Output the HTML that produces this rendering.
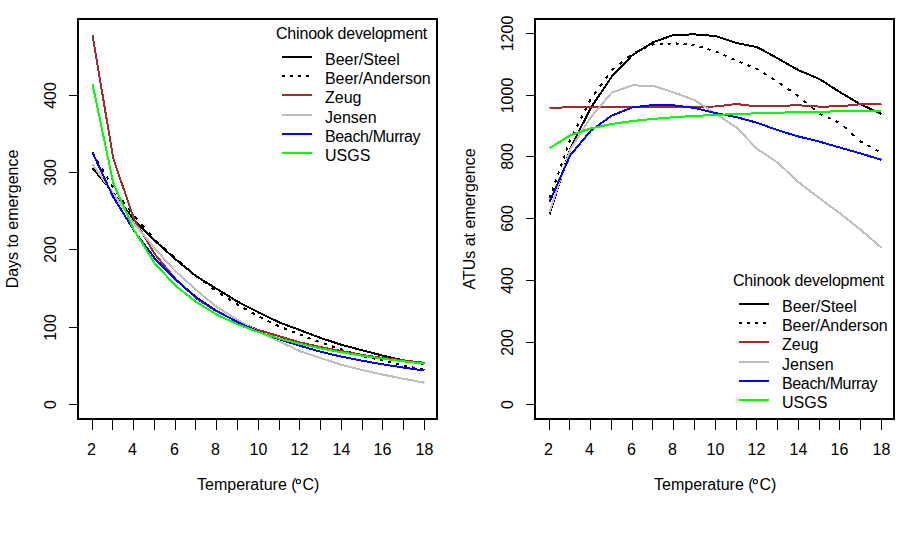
<!DOCTYPE html>
<html><head><meta charset="utf-8"><style>
html,body{margin:0;padding:0;background:#fff;}
svg{display:block;}
text{font-family:"Liberation Sans", sans-serif;font-size:16px;fill:#000;}
</style></head><body>
<svg width="914" height="554" viewBox="0 0 914 554">
<rect width="914" height="554" fill="#fff"/>
<rect x="78" y="19" width="359" height="400" fill="none" stroke="#000" stroke-width="2"/>
<line x1="69" y1="404.5" x2="78" y2="404.5" stroke="#000" stroke-width="1"/>
<text transform="translate(56,404.5) rotate(-90)" text-anchor="middle">0</text>
<line x1="69" y1="327.5" x2="78" y2="327.5" stroke="#000" stroke-width="1"/>
<text transform="translate(56,327.5) rotate(-90)" text-anchor="middle">100</text>
<line x1="69" y1="249.5" x2="78" y2="249.5" stroke="#000" stroke-width="1"/>
<text transform="translate(56,249.5) rotate(-90)" text-anchor="middle">200</text>
<line x1="69" y1="172.5" x2="78" y2="172.5" stroke="#000" stroke-width="1"/>
<text transform="translate(56,172.5) rotate(-90)" text-anchor="middle">300</text>
<line x1="69" y1="95.5" x2="78" y2="95.5" stroke="#000" stroke-width="1"/>
<text transform="translate(56,95.5) rotate(-90)" text-anchor="middle">400</text>
<line x1="92.5" y1="419" x2="92.5" y2="430" stroke="#000" stroke-width="1"/>
<text x="91.5" y="455" text-anchor="middle">2</text>
<line x1="112.5" y1="419" x2="112.5" y2="430" stroke="#000" stroke-width="1"/>
<line x1="133.5" y1="419" x2="133.5" y2="430" stroke="#000" stroke-width="1"/>
<text x="132.5" y="455" text-anchor="middle">4</text>
<line x1="154.5" y1="419" x2="154.5" y2="430" stroke="#000" stroke-width="1"/>
<line x1="175.5" y1="419" x2="175.5" y2="430" stroke="#000" stroke-width="1"/>
<text x="174.5" y="455" text-anchor="middle">6</text>
<line x1="195.5" y1="419" x2="195.5" y2="430" stroke="#000" stroke-width="1"/>
<line x1="216.5" y1="419" x2="216.5" y2="430" stroke="#000" stroke-width="1"/>
<text x="215.5" y="455" text-anchor="middle">8</text>
<line x1="237.5" y1="419" x2="237.5" y2="430" stroke="#000" stroke-width="1"/>
<line x1="258.5" y1="419" x2="258.5" y2="430" stroke="#000" stroke-width="1"/>
<text x="258.5" y="455" text-anchor="middle">10</text>
<line x1="279.5" y1="419" x2="279.5" y2="430" stroke="#000" stroke-width="1"/>
<line x1="299.5" y1="419" x2="299.5" y2="430" stroke="#000" stroke-width="1"/>
<text x="299.5" y="455" text-anchor="middle">12</text>
<line x1="320.5" y1="419" x2="320.5" y2="430" stroke="#000" stroke-width="1"/>
<line x1="341.5" y1="419" x2="341.5" y2="430" stroke="#000" stroke-width="1"/>
<text x="341.5" y="455" text-anchor="middle">14</text>
<line x1="362.5" y1="419" x2="362.5" y2="430" stroke="#000" stroke-width="1"/>
<line x1="382.5" y1="419" x2="382.5" y2="430" stroke="#000" stroke-width="1"/>
<text x="382.5" y="455" text-anchor="middle">16</text>
<line x1="403.5" y1="419" x2="403.5" y2="430" stroke="#000" stroke-width="1"/>
<line x1="424.5" y1="419" x2="424.5" y2="430" stroke="#000" stroke-width="1"/>
<text x="424.5" y="455" text-anchor="middle">18</text>
<text x="197" y="490">Temperature (</text>
<circle cx="298.4" cy="481.6" r="2.1" fill="none" stroke="#000" stroke-width="1.1"/>
<text x="302.4" y="490">C)</text>
<text transform="translate(18,219) rotate(-90)" text-anchor="middle">Days to emergence</text>
<polyline points="92.50,168.00 113.25,193.00 134.00,219.80 154.75,240.60 175.50,259.30 196.25,276.30 217.00,289.00 237.75,301.70 258.50,312.40 279.25,322.40 300.00,330.10 320.75,338.00 341.50,344.80 362.25,350.30 383.00,355.70 403.75,360.40 424.50,364.20" fill="none" stroke="#000000" stroke-width="2" stroke-linejoin="round" shape-rendering="crispEdges"/>
<path d="M92.50,152.50L94.25,155.50M97.18,160.50L98.93,163.50M101.85,168.50L103.61,171.50M106.53,176.50L108.28,179.50M111.20,184.50L112.96,187.50M116.58,192.50L118.81,195.50M122.51,200.50L124.74,203.50M128.44,208.50L130.67,211.50M134.44,216.50L137.09,219.50M141.51,224.50L144.15,227.50M148.57,232.50L151.22,235.50M155.75,240.41L158.75,243.14M163.75,247.70L166.75,250.43M171.75,254.98L174.75,257.72M179.75,262.00L182.75,264.55M187.75,268.79L190.75,271.33M195.75,275.58L196.25,276.00M196.25,276.00L198.75,277.89M203.75,281.67L206.75,283.94M211.75,287.73L214.75,290.00M219.75,293.42L222.75,295.30M227.75,298.43L230.75,300.31M235.75,303.45L237.75,304.70M237.75,304.70L238.75,305.26M243.75,308.05L246.75,309.73M251.75,312.53L254.75,314.20M259.75,316.91L262.75,318.37M267.75,320.80L270.75,322.26M275.75,324.70L278.75,326.16M283.75,328.18L286.75,329.36M291.75,331.34L294.75,332.53M299.75,334.50L300.00,334.60M300.00,334.60L302.75,335.65M307.75,337.55L310.75,338.69M315.75,340.60L318.75,341.74M323.75,343.51L326.75,344.52M331.75,346.21L334.75,347.22M339.75,348.91L341.50,349.50M341.50,349.50L342.75,349.90M347.75,351.49L350.75,352.44M355.75,354.03L358.75,354.99M363.75,356.42L366.75,357.05M371.75,358.11L374.75,358.75M379.75,359.81L382.75,360.45M387.75,361.74L390.75,362.52M395.75,363.82L398.75,364.60M403.75,365.90L406.75,366.43M411.75,367.33L414.75,367.86M419.75,368.75L422.75,369.29" fill="none" stroke="#000000" stroke-width="2" shape-rendering="crispEdges"/>
<polyline points="92.50,35.00 113.25,158.50 134.00,219.00 154.75,254.00 175.50,279.00 196.25,298.30 217.00,311.60 237.75,321.80 258.50,330.00 279.25,336.20 300.00,342.50 320.75,347.10 341.50,351.10 362.25,354.90 383.00,357.90 403.75,360.40 424.50,362.80" fill="none" stroke="#a52a2a" stroke-width="2" stroke-linejoin="round" shape-rendering="crispEdges"/>
<polyline points="92.50,164.40 113.25,193.50 134.00,223.40 154.75,248.40 175.50,271.20 196.25,290.00 217.00,307.10 237.75,320.00 258.50,331.90 279.25,341.50 300.00,351.30 320.75,358.00 341.50,364.80 362.25,370.10 383.00,374.60 403.75,378.80 424.50,382.70" fill="none" stroke="#bebebe" stroke-width="2" stroke-linejoin="round" shape-rendering="crispEdges"/>
<polyline points="92.50,152.70 113.25,197.00 134.00,230.50 154.75,258.50 175.50,279.50 196.25,297.30 217.00,311.10 237.75,322.20 258.50,331.70 279.25,339.20 300.00,345.80 320.75,351.80 341.50,356.70 362.25,360.70 383.00,364.40 403.75,367.60 424.50,370.50" fill="none" stroke="#0000ff" stroke-width="2" stroke-linejoin="round" shape-rendering="crispEdges"/>
<polyline points="92.50,83.90 113.25,183.00 134.00,230.00 154.75,263.50 175.50,285.70 196.25,302.00 217.00,314.80 237.75,324.40 258.50,332.10 279.25,338.50 300.00,343.90 320.75,348.40 341.50,352.30 362.25,355.70 383.00,358.70 403.75,361.40 424.50,363.70" fill="none" stroke="#00ff00" stroke-width="2" stroke-linejoin="round" shape-rendering="crispEdges"/>
<text x="276" y="39" textLength="151.3" lengthAdjust="spacing">Chinook development</text>
<line x1="282" y1="57.0" x2="312" y2="57.0" stroke="#000000" stroke-width="2" shape-rendering="crispEdges"/>
<text x="325" y="65.0">Beer/Steel</text>
<line x1="282" y1="76.0" x2="312" y2="76.0" stroke="#000000" stroke-width="2" stroke-dasharray="3 5" shape-rendering="crispEdges"/>
<text x="325" y="84.0" textLength="105.6" lengthAdjust="spacing">Beer/Anderson</text>
<line x1="282" y1="95.0" x2="312" y2="95.0" stroke="#a52a2a" stroke-width="2" shape-rendering="crispEdges"/>
<text x="325" y="103.0">Zeug</text>
<line x1="282" y1="115.0" x2="312" y2="115.0" stroke="#bebebe" stroke-width="2" shape-rendering="crispEdges"/>
<text x="325" y="123.0">Jensen</text>
<line x1="282" y1="134.0" x2="312" y2="134.0" stroke="#0000ff" stroke-width="2" shape-rendering="crispEdges"/>
<text x="325" y="142.0" textLength="95.6" lengthAdjust="spacing">Beach/Murray</text>
<line x1="282" y1="153.0" x2="312" y2="153.0" stroke="#00ff00" stroke-width="2" shape-rendering="crispEdges"/>
<text x="325" y="161.0">USGS</text>
<rect x="535" y="19" width="359" height="400" fill="none" stroke="#000" stroke-width="2"/>
<line x1="526" y1="404.5" x2="535" y2="404.5" stroke="#000" stroke-width="1"/>
<text transform="translate(513,404.5) rotate(-90)" text-anchor="middle">0</text>
<line x1="526" y1="342.5" x2="535" y2="342.5" stroke="#000" stroke-width="1"/>
<text transform="translate(513,342.5) rotate(-90)" text-anchor="middle">200</text>
<line x1="526" y1="280.5" x2="535" y2="280.5" stroke="#000" stroke-width="1"/>
<text transform="translate(513,280.5) rotate(-90)" text-anchor="middle">400</text>
<line x1="526" y1="218.5" x2="535" y2="218.5" stroke="#000" stroke-width="1"/>
<text transform="translate(513,218.5) rotate(-90)" text-anchor="middle">600</text>
<line x1="526" y1="156.5" x2="535" y2="156.5" stroke="#000" stroke-width="1"/>
<text transform="translate(513,156.5) rotate(-90)" text-anchor="middle">800</text>
<line x1="526" y1="95.5" x2="535" y2="95.5" stroke="#000" stroke-width="1"/>
<text transform="translate(513,95.5) rotate(-90)" text-anchor="middle">1000</text>
<line x1="526" y1="33.5" x2="535" y2="33.5" stroke="#000" stroke-width="1"/>
<text transform="translate(513,33.5) rotate(-90)" text-anchor="middle">1200</text>
<line x1="549.5" y1="419" x2="549.5" y2="430" stroke="#000" stroke-width="1"/>
<text x="548.5" y="455" text-anchor="middle">2</text>
<line x1="569.5" y1="419" x2="569.5" y2="430" stroke="#000" stroke-width="1"/>
<line x1="590.5" y1="419" x2="590.5" y2="430" stroke="#000" stroke-width="1"/>
<text x="589.5" y="455" text-anchor="middle">4</text>
<line x1="611.5" y1="419" x2="611.5" y2="430" stroke="#000" stroke-width="1"/>
<line x1="632.5" y1="419" x2="632.5" y2="430" stroke="#000" stroke-width="1"/>
<text x="631.5" y="455" text-anchor="middle">6</text>
<line x1="652.5" y1="419" x2="652.5" y2="430" stroke="#000" stroke-width="1"/>
<line x1="673.5" y1="419" x2="673.5" y2="430" stroke="#000" stroke-width="1"/>
<text x="672.5" y="455" text-anchor="middle">8</text>
<line x1="694.5" y1="419" x2="694.5" y2="430" stroke="#000" stroke-width="1"/>
<line x1="715.5" y1="419" x2="715.5" y2="430" stroke="#000" stroke-width="1"/>
<text x="715.5" y="455" text-anchor="middle">10</text>
<line x1="736.5" y1="419" x2="736.5" y2="430" stroke="#000" stroke-width="1"/>
<line x1="756.5" y1="419" x2="756.5" y2="430" stroke="#000" stroke-width="1"/>
<text x="756.5" y="455" text-anchor="middle">12</text>
<line x1="777.5" y1="419" x2="777.5" y2="430" stroke="#000" stroke-width="1"/>
<line x1="798.5" y1="419" x2="798.5" y2="430" stroke="#000" stroke-width="1"/>
<text x="798.5" y="455" text-anchor="middle">14</text>
<line x1="819.5" y1="419" x2="819.5" y2="430" stroke="#000" stroke-width="1"/>
<line x1="839.5" y1="419" x2="839.5" y2="430" stroke="#000" stroke-width="1"/>
<text x="839.5" y="455" text-anchor="middle">16</text>
<line x1="860.5" y1="419" x2="860.5" y2="430" stroke="#000" stroke-width="1"/>
<line x1="881.5" y1="419" x2="881.5" y2="430" stroke="#000" stroke-width="1"/>
<text x="881.5" y="455" text-anchor="middle">18</text>
<text x="654" y="490">Temperature (</text>
<circle cx="755.4" cy="481.6" r="2.1" fill="none" stroke="#000" stroke-width="1.1"/>
<text x="759.4" y="490">C)</text>
<text transform="translate(475,219) rotate(-90)" text-anchor="middle">ATUs at emergence</text>
<polyline points="549.50,214.50 570.25,148.50 591.00,107.50 611.75,76.60 632.50,55.00 653.25,42.20 674.00,34.80 694.75,34.40 715.50,36.00 736.25,43.00 757.00,47.10 777.75,58.40 798.50,70.20 819.25,78.90 840.00,92.20 860.75,104.50 881.50,113.90" fill="none" stroke="#000000" stroke-width="2" stroke-linejoin="round" shape-rendering="crispEdges"/>
<path d="M549.50,198.50L550.56,195.50M552.31,190.50L553.37,187.50M555.13,182.50L556.18,179.50M557.94,174.50L559.00,171.50M560.75,166.50L561.81,163.50M563.57,158.50L564.62,155.50M566.38,150.50L567.44,147.50M569.19,142.50L570.25,139.50M572.80,134.50L574.33,131.50M576.88,126.50L578.41,123.50M580.96,118.50L582.49,115.50M585.04,110.50L586.56,107.50M589.11,102.50L590.64,99.50M594.13,94.50L596.31,91.50M599.96,86.50L602.14,83.50M605.78,78.50L607.96,75.50M611.60,70.50L611.75,70.30M611.75,70.30L614.55,68.05M619.55,64.02L622.55,61.61M627.55,57.58L630.55,55.17M635.55,52.25L638.55,50.92M643.55,48.70L646.55,47.37M651.55,45.15L653.25,44.40M653.25,44.40L654.55,44.33M659.55,44.07L662.55,43.91M667.55,43.64L670.55,43.48M675.55,43.43L678.55,43.69M683.55,44.13L686.55,44.39M691.55,44.82L694.55,45.08M699.55,46.56L702.55,47.47M707.55,48.99L710.55,49.90M715.55,51.42L718.55,52.75M723.55,54.97L726.55,56.30M731.55,58.52L734.55,59.85M739.55,61.92L742.55,63.12M747.55,65.12L750.55,66.32M755.55,68.32L757.00,68.90M757.00,68.90L758.55,69.86M763.55,72.97L766.55,74.84M771.55,77.95L774.55,79.81M779.55,83.06L782.55,85.15M787.55,88.65L790.55,90.74M795.55,94.24L798.50,96.30M798.50,96.30L798.55,96.34M803.55,100.53L806.55,103.05M811.55,107.24L814.55,109.76M819.55,113.83L822.55,115.18M827.55,117.42L830.55,118.76M835.55,121.01L838.55,122.35M843.55,126.18L846.55,128.87M851.55,133.35L854.55,136.04M859.55,140.52L860.75,141.60M860.75,141.60L862.55,142.57M867.55,145.27L870.55,146.89M875.55,149.59L878.55,151.21" fill="none" stroke="#000000" stroke-width="2" shape-rendering="crispEdges"/>
<polyline points="549.50,108.00 570.25,107.20 591.00,107.00 611.75,107.00 632.50,106.80 653.25,106.90 674.00,106.90 694.75,106.60 715.50,106.50 736.25,104.00 757.00,106.50 777.75,105.80 798.50,105.30 819.25,106.60 840.00,106.40 860.75,104.20 881.50,103.80" fill="none" stroke="#a52a2a" stroke-width="2" stroke-linejoin="round" shape-rendering="crispEdges"/>
<polyline points="549.50,212.00 570.25,149.50 591.00,117.00 611.75,92.60 632.50,85.40 653.25,85.80 674.00,92.50 694.75,100.20 715.50,113.80 736.25,127.30 757.00,148.80 777.75,162.70 798.50,182.20 819.25,198.00 840.00,213.30 860.75,229.80 881.50,247.80" fill="none" stroke="#bebebe" stroke-width="2" stroke-linejoin="round" shape-rendering="crispEdges"/>
<polyline points="549.50,202.00 570.25,155.30 591.00,130.50 611.75,115.60 632.50,107.30 653.25,105.00 674.00,105.40 694.75,107.90 715.50,113.10 736.25,117.10 757.00,122.70 777.75,130.20 798.50,136.50 819.25,141.60 840.00,147.60 860.75,153.50 881.50,159.80" fill="none" stroke="#0000ff" stroke-width="2" stroke-linejoin="round" shape-rendering="crispEdges"/>
<polyline points="549.50,148.19 570.25,135.29 591.00,128.34 611.75,124.00 632.50,121.03 653.25,118.86 674.00,117.22 694.75,115.93 715.50,114.89 736.25,114.03 757.00,113.31 777.75,112.70 798.50,112.17 819.25,111.72 840.00,111.32 860.75,110.96 881.50,110.65" fill="none" stroke="#00ff00" stroke-width="2" stroke-linejoin="round" shape-rendering="crispEdges"/>
<text x="733" y="286" textLength="151.3" lengthAdjust="spacing">Chinook development</text>
<line x1="739" y1="304.0" x2="769" y2="304.0" stroke="#000000" stroke-width="2" shape-rendering="crispEdges"/>
<text x="782" y="312.0">Beer/Steel</text>
<line x1="739" y1="323.0" x2="769" y2="323.0" stroke="#000000" stroke-width="2" stroke-dasharray="3 5" shape-rendering="crispEdges"/>
<text x="782" y="331.0" textLength="105.6" lengthAdjust="spacing">Beer/Anderson</text>
<line x1="739" y1="342.0" x2="769" y2="342.0" stroke="#a52a2a" stroke-width="2" shape-rendering="crispEdges"/>
<text x="782" y="350.0">Zeug</text>
<line x1="739" y1="362.0" x2="769" y2="362.0" stroke="#bebebe" stroke-width="2" shape-rendering="crispEdges"/>
<text x="782" y="370.0">Jensen</text>
<line x1="739" y1="381.0" x2="769" y2="381.0" stroke="#0000ff" stroke-width="2" shape-rendering="crispEdges"/>
<text x="782" y="389.0" textLength="95.6" lengthAdjust="spacing">Beach/Murray</text>
<line x1="739" y1="400.0" x2="769" y2="400.0" stroke="#00ff00" stroke-width="2" shape-rendering="crispEdges"/>
<text x="782" y="408.0">USGS</text>
</svg></body></html>
